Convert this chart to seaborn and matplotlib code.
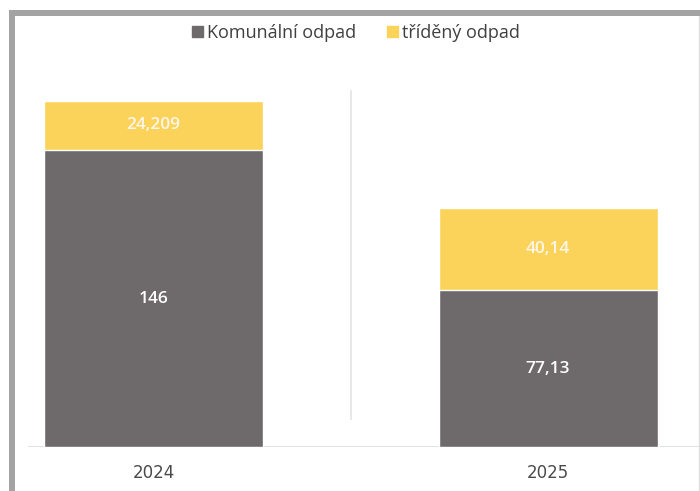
import matplotlib
matplotlib.use("Agg")
import matplotlib.pyplot as plt
import seaborn as sns
import pandas as pd
from matplotlib.lines import Line2D
from matplotlib.patches import Rectangle

years = ["2024", "2025"]
komunalni = [146.0, 77.13]
trideny = [24.209, 40.14]
komunalni_labels = ["146", "77,13"]
trideny_labels = ["24,209", "40,14"]
series_names = ["Komunální odpad", "tříděný odpad"]

GRAY = "#6e6a6b"
YELLOW = "#fcd35a"

sns.set_theme(style="white")
plt.rcParams["font.family"] = ["Open Sans", "DejaVu Sans"]

df = pd.DataFrame({"rok": years, "komunalni": komunalni, "trideny": trideny})
df["celkem"] = df["komunalni"] + df["trideny"]

W, H = 700, 491
fig = plt.figure(figsize=(W / 100, H / 100), dpi=100)

ax_left, ax_right = 28, 700
ax_bottom_px, ax_top_px = 447, 60
ax = fig.add_axes([ax_left / W, (H - ax_bottom_px) / H,
                   (ax_right - ax_left) / W, (ax_bottom_px - ax_top_px) / H])

c0, c1 = 153.5, 548.0
step = c1 - c0
px_per_unit = 2.034

bar_w = 219 / step
sns.barplot(data=df, x="rok", y="celkem", color=YELLOW, width=bar_w,
            saturation=1, ax=ax, zorder=2)
sns.barplot(data=df, x="rok", y="komunalni", color=GRAY, width=bar_w,
            saturation=1, ax=ax, zorder=3)
ax.set_xlim((ax_left - c0) / step, (ax_right - c0) / step)
ax.set_ylim(0, (ax_bottom_px - ax_top_px) / px_per_unit)
if ax.get_legend() is not None:
    ax.get_legend().remove()

for i in range(len(years)):
    ax.text(i, komunalni[i] / 2, komunalni_labels[i], ha="center", va="center",
            color="white", fontsize=12.5, fontweight="semibold", zorder=5)
    ax.text(i, komunalni[i] + trideny[i] / 2, trideny_labels[i], ha="center",
            va="center", color="#fff6ea", fontsize=12.5, fontweight="semibold",
            zorder=5)

ax.vlines(0.5, 13.3, 175.5, color="#e4e4e4", lw=1.2, zorder=1)

for s in ax.spines.values():
    s.set_visible(False)
ax.axhline(0, color="#dcdcdc", lw=1.2, zorder=1)
ax.set_xlabel("")
ax.set_ylabel("")
ax.set_yticks([])
ax.tick_params(axis="x", length=0, pad=12, labelcolor="#4a4a4a")
for t in ax.get_xticklabels():
    t.set_fontfamily(["DejaVu Sans"])
    t.set_fontsize(12)

handles = [Rectangle((0, 0), 1, 1, color=GRAY), Rectangle((0, 0), 1, 1, color=YELLOW)]
fig.legend(handles, series_names, loc="center", bbox_to_anchor=(356 / W, 1 - 33 / H),
           ncol=2, frameon=False, fontsize=13, handlelength=0.6, handleheight=0.6,
           handletextpad=0.25, columnspacing=1.7, labelcolor="#404040")

border = "#a3a3a3"
fig.add_artist(Rectangle((9 / W, 0), 6 / W, 1 - 10 / H, transform=fig.transFigure,
                         color=border, lw=0, zorder=10))
fig.add_artist(Rectangle((9 / W, 1 - 16 / H), 1 - 9 / W, 6 / H, transform=fig.transFigure,
                         color=border, lw=0, zorder=10))
fig.add_artist(Line2D([699 / W, 699 / W], [0, 1 - 16 / H], transform=fig.transFigure,
                      color="#e0e0e0", lw=1))

fig.savefig("out.png", dpi=100)
